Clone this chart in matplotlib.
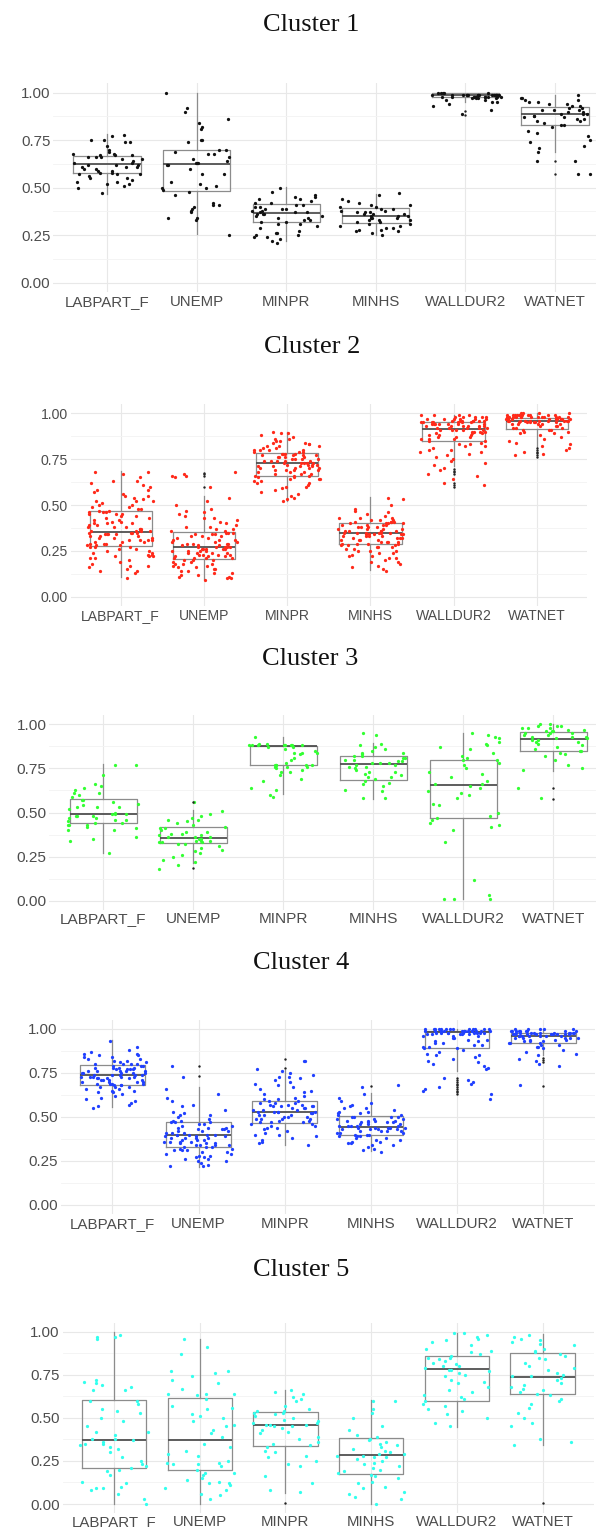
import numpy as np
import matplotlib
matplotlib.use("Agg")
import matplotlib.pyplot as plt

variables = ["LABPART_F", "UNEMP", "MINPR", "MINHS", "WALLDUR2", "WATNET"]
titles = ["Cluster 1", "Cluster 2", "Cluster 3", "Cluster 4", "Cluster 5"]
colors = ["#111111", "#ff2a1a", "#33ff33", "#2040ff", "#33ffee"]

# ---------------- Cluster 1 ----------------
cl1_LABPART_F = [0.78, 0.77, 0.75, 0.75, 0.74, 0.74, 0.72, 0.70, 0.69, 0.68, 0.68, 0.67, 0.67, 0.67, 0.66, 0.66,
                 0.66, 0.65, 0.65, 0.64, 0.63, 0.63, 0.62, 0.62, 0.62, 0.61, 0.61, 0.61, 0.60, 0.60, 0.59, 0.59,
                 0.58, 0.58, 0.57, 0.57, 0.57, 0.56, 0.55, 0.55, 0.54, 0.53, 0.53, 0.52, 0.52, 0.51, 0.50, 0.47]
cl1_UNEMP = [1.00, 0.92, 0.90, 0.86, 0.84, 0.82, 0.81, 0.75, 0.75, 0.74, 0.70, 0.70, 0.69, 0.68, 0.68, 0.66,
             0.65, 0.64, 0.63, 0.63, 0.63, 0.62, 0.62, 0.60, 0.57, 0.57, 0.53, 0.52, 0.51, 0.50, 0.50, 0.49,
             0.48, 0.46, 0.42, 0.41, 0.41, 0.40, 0.39, 0.38, 0.37, 0.34, 0.34, 0.33, 0.25]
cl1_MINPR = [0.50, 0.48, 0.46, 0.45, 0.45, 0.44, 0.44, 0.43, 0.42, 0.42, 0.41, 0.41, 0.40, 0.40, 0.39, 0.39,
             0.39, 0.38, 0.38, 0.37, 0.37, 0.37, 0.36, 0.36, 0.36, 0.35, 0.35, 0.34, 0.34, 0.33, 0.33, 0.32,
             0.32, 0.31, 0.31, 0.30, 0.29, 0.27, 0.26, 0.26, 0.25, 0.25, 0.24, 0.24, 0.23, 0.22, 0.21]
cl1_MINHS = [0.47, 0.46, 0.44, 0.43, 0.42, 0.41, 0.41, 0.40, 0.40, 0.39, 0.39, 0.38, 0.38, 0.37, 0.37, 0.37,
             0.36, 0.36, 0.36, 0.35, 0.35, 0.35, 0.34, 0.34, 0.34, 0.33, 0.33, 0.33, 0.32, 0.32, 0.31, 0.31,
             0.30, 0.30, 0.29, 0.29, 0.28, 0.28, 0.27, 0.27, 0.26, 0.25]
cl1_WALLDUR2 = [1.00, 1.00, 1.00, 1.00, 1.00, 0.99, 0.99, 0.99, 0.99, 0.99, 0.99, 0.99, 0.99, 0.99, 0.99, 0.99,
                0.99, 0.99, 0.99, 0.99, 0.98, 0.98, 0.98, 0.98, 0.98, 0.98, 0.98, 0.98, 0.98, 0.98, 0.97, 0.97,
                0.97, 0.97, 0.96, 0.96, 0.95, 0.95, 0.94, 0.93, 0.91, 0.89]
cl1_WATNET = [0.99, 0.97, 0.97, 0.96, 0.96, 0.95, 0.95, 0.94, 0.94, 0.93, 0.93, 0.92, 0.92, 0.91, 0.91, 0.91,
              0.90, 0.90, 0.89, 0.89, 0.89, 0.88, 0.88, 0.87, 0.87, 0.86, 0.86, 0.85, 0.85, 0.84, 0.83, 0.83,
              0.82, 0.80, 0.79, 0.77, 0.75, 0.74, 0.72, 0.71, 0.69, 0.64, 0.64, 0.57, 0.57]
cl1_q1 = [0.576, 0.481, 0.318, 0.314, 0.979, 0.828]
cl1_med = [0.623, 0.626, 0.368, 0.353, 0.990, 0.888]
cl1_q3 = [0.668, 0.700, 0.414, 0.395, 0.997, 0.926]
cl1_lo = [0.467, 0.255, 0.220, 0.251, 0.950, 0.690]
cl1_hi = [0.781, 1.000, 0.505, 0.467, 1.000, 0.990]
cl1_out = [[], [], [], [], [0.905, 0.885], [0.642, 0.572]]

# ---------------- Cluster 2 ----------------
cl2_LABPART_F = [0.68, 0.68, 0.67, 0.65, 0.63, 0.63, 0.62, 0.61, 0.60, 0.58, 0.58, 0.57, 0.56, 0.55, 0.55, 0.54,
                 0.53, 0.52, 0.52, 0.51, 0.50, 0.50, 0.49, 0.49, 0.48, 0.48, 0.47, 0.47, 0.46, 0.46, 0.46, 0.45,
                 0.45, 0.44, 0.44, 0.43, 0.43, 0.42, 0.42, 0.41, 0.41, 0.40, 0.40, 0.40, 0.39, 0.39, 0.38, 0.38,
                 0.38, 0.37, 0.37, 0.37, 0.36, 0.36, 0.36, 0.35, 0.35, 0.35, 0.35, 0.34, 0.34, 0.34, 0.33, 0.33,
                 0.33, 0.32, 0.32, 0.32, 0.31, 0.31, 0.31, 0.30, 0.30, 0.30, 0.29, 0.29, 0.29, 0.28, 0.28, 0.28,
                 0.27, 0.27, 0.26, 0.26, 0.25, 0.25, 0.24, 0.24, 0.23, 0.23, 0.22, 0.22, 0.22, 0.21, 0.21, 0.20,
                 0.19, 0.18, 0.17, 0.17, 0.16, 0.15, 0.14, 0.14, 0.13, 0.10, 0.34, 0.31, 0.45, 0.27, 0.36, 0.52]
cl2_UNEMP = [0.68, 0.67, 0.66, 0.66, 0.65, 0.60, 0.54, 0.52, 0.50, 0.48, 0.47, 0.46, 0.45, 0.44, 0.43, 0.43,
             0.42, 0.41, 0.40, 0.39, 0.38, 0.38, 0.37, 0.37, 0.36, 0.36, 0.35, 0.35, 0.35, 0.34, 0.34, 0.33,
             0.33, 0.33, 0.32, 0.32, 0.31, 0.31, 0.30, 0.30, 0.30, 0.29, 0.29, 0.29, 0.28, 0.28, 0.28, 0.27,
             0.27, 0.27, 0.27, 0.26, 0.26, 0.26, 0.26, 0.25, 0.25, 0.25, 0.24, 0.24, 0.24, 0.23, 0.23, 0.23,
             0.22, 0.22, 0.22, 0.21, 0.21, 0.21, 0.20, 0.20, 0.20, 0.19, 0.19, 0.18, 0.18, 0.17, 0.17, 0.16,
             0.16, 0.15, 0.15, 0.14, 0.13, 0.13, 0.12, 0.12, 0.11, 0.11, 0.10, 0.10, 0.09, 0.27, 0.24, 0.31,
             0.21, 0.26, 0.18, 0.29, 0.34, 0.25, 0.23, 0.14]
cl2_MINPR = [0.90, 0.89, 0.89, 0.88, 0.87, 0.86, 0.86, 0.85, 0.85, 0.84, 0.84, 0.83, 0.83, 0.82, 0.82, 0.81,
             0.81, 0.80, 0.80, 0.80, 0.79, 0.79, 0.79, 0.78, 0.78, 0.78, 0.77, 0.77, 0.77, 0.76, 0.76, 0.76,
             0.76, 0.75, 0.75, 0.75, 0.74, 0.74, 0.74, 0.74, 0.73, 0.73, 0.73, 0.73, 0.72, 0.72, 0.72, 0.72,
             0.71, 0.71, 0.71, 0.70, 0.70, 0.70, 0.69, 0.69, 0.69, 0.68, 0.68, 0.68, 0.67, 0.67, 0.66, 0.66,
             0.66, 0.65, 0.65, 0.64, 0.64, 0.63, 0.63, 0.62, 0.62, 0.61, 0.60, 0.60, 0.59, 0.58, 0.57, 0.56,
             0.55, 0.54, 0.53, 0.52, 0.75, 0.71, 0.78, 0.69, 0.73, 0.82, 0.64, 0.77, 0.70, 0.74, 0.67, 0.80]
cl2_MINHS = [0.54, 0.53, 0.50, 0.48, 0.47, 0.46, 0.45, 0.44, 0.43, 0.43, 0.42, 0.42, 0.41, 0.41, 0.41, 0.40,
             0.40, 0.40, 0.39, 0.39, 0.39, 0.38, 0.38, 0.38, 0.37, 0.37, 0.37, 0.36, 0.36, 0.36, 0.36, 0.35,
             0.35, 0.35, 0.35, 0.34, 0.34, 0.34, 0.34, 0.33, 0.33, 0.33, 0.32, 0.32, 0.32, 0.31, 0.31, 0.31,
             0.30, 0.30, 0.30, 0.29, 0.29, 0.29, 0.28, 0.28, 0.27, 0.27, 0.26, 0.26, 0.25, 0.25, 0.24, 0.24,
             0.23, 0.22, 0.22, 0.21, 0.20, 0.19, 0.18, 0.17, 0.16, 0.15, 0.14, 0.40, 0.37, 0.33, 0.30, 0.42,
             0.35, 0.28, 0.39, 0.32, 0.36, 0.41, 0.34, 0.29, 0.38, 0.31, 0.27, 0.43, 0.21, 0.19, 0.25, 0.35]
cl2_WALLDUR2 = [0.99, 0.99, 0.99, 0.98, 0.98, 0.98, 0.98, 0.97, 0.97, 0.97, 0.97, 0.97, 0.96, 0.96, 0.96, 0.96,
                0.96, 0.95, 0.95, 0.95, 0.95, 0.95, 0.95, 0.94, 0.94, 0.94, 0.94, 0.94, 0.93, 0.93, 0.93, 0.93,
                0.93, 0.92, 0.92, 0.92, 0.92, 0.91, 0.91, 0.91, 0.91, 0.90, 0.90, 0.90, 0.90, 0.89, 0.89, 0.89,
                0.88, 0.88, 0.88, 0.87, 0.87, 0.87, 0.86, 0.86, 0.86, 0.85, 0.85, 0.84, 0.83, 0.83, 0.82, 0.82,
                0.81, 0.80, 0.80, 0.79, 0.79, 0.78, 0.77, 0.76, 0.75, 0.74, 0.73, 0.72, 0.70, 0.69, 0.67, 0.66,
                0.64, 0.62, 0.61, 0.98, 0.96, 0.94, 0.92, 0.97, 0.95, 0.93, 0.99, 0.91, 0.96, 0.94]
cl2_WATNET = [1.00, 1.00, 1.00, 0.99, 0.99, 0.99, 0.99, 0.99, 0.99, 0.99, 0.99, 0.98, 0.98, 0.98, 0.98, 0.98,
              0.98, 0.98, 0.98, 0.98, 0.97, 0.97, 0.97, 0.97, 0.97, 0.97, 0.97, 0.97, 0.96, 0.96, 0.96, 0.96,
              0.96, 0.96, 0.96, 0.96, 0.95, 0.95, 0.95, 0.95, 0.95, 0.94, 0.94, 0.94, 0.94, 0.93, 0.93, 0.93,
              0.92, 0.92, 0.92, 0.91, 0.91, 0.91, 0.90, 0.90, 0.89, 0.89, 0.88, 0.87, 0.86, 0.85, 0.84, 0.83,
              0.82, 0.81, 0.80, 0.79, 0.78, 0.77, 0.99, 0.98, 0.97, 0.96, 0.98, 0.99, 0.97, 0.95, 0.98, 0.96,
              1.00, 0.97, 0.99, 0.94, 0.98]
cl2_q1 = [0.276, 0.205, 0.656, 0.287, 0.851, 0.913]
cl2_med = [0.351, 0.271, 0.729, 0.345, 0.913, 0.960]
cl2_q3 = [0.467, 0.353, 0.785, 0.404, 0.951, 0.976]
cl2_lo = [0.109, 0.098, 0.524, 0.145, 0.713, 0.818]
cl2_hi = [0.685, 0.547, 0.896, 0.545, 0.991, 1.000]
cl2_out = [[], [0.596, 0.660, 0.667, 0.676], [], [],
           [0.695, 0.687, 0.678, 0.667, 0.618, 0.609, 0.600],
           [0.809, 0.800, 0.791, 0.782, 0.773, 0.764]]

# ---------------- Cluster 3 ----------------
cl3_LABPART_F = [0.77, 0.77, 0.71, 0.66, 0.65, 0.64, 0.63, 0.61, 0.61, 0.60, 0.59, 0.57, 0.57, 0.56, 0.55, 0.54,
                 0.53, 0.53, 0.53, 0.52, 0.50, 0.49, 0.49, 0.49, 0.48, 0.48, 0.48, 0.47, 0.47, 0.46, 0.46, 0.45,
                 0.44, 0.44, 0.43, 0.43, 0.43, 0.42, 0.41, 0.40, 0.40, 0.36, 0.35, 0.34, 0.27]
cl3_UNEMP = [0.56, 0.51, 0.49, 0.48, 0.47, 0.46, 0.46, 0.45, 0.44, 0.43, 0.42, 0.41, 0.41, 0.40, 0.39, 0.39,
             0.38, 0.38, 0.37, 0.37, 0.36, 0.36, 0.36, 0.35, 0.35, 0.34, 0.34, 0.34, 0.33, 0.33, 0.33, 0.32,
             0.32, 0.31, 0.30, 0.29, 0.28, 0.27, 0.26, 0.25, 0.23, 0.22, 0.20, 0.18]
cl3_MINPR = [0.93, 0.89, 0.89, 0.88, 0.88, 0.88, 0.88, 0.88, 0.88, 0.88, 0.88, 0.87, 0.87, 0.86, 0.85, 0.84,
             0.84, 0.84, 0.83, 0.81, 0.80, 0.78, 0.77, 0.77, 0.77, 0.77, 0.77, 0.76, 0.76, 0.76, 0.75, 0.74,
             0.73, 0.73, 0.71, 0.69, 0.68, 0.64, 0.63, 0.60, 0.59]
cl3_MINHS = [0.95, 0.94, 0.89, 0.88, 0.87, 0.86, 0.85, 0.84, 0.84, 0.83, 0.82, 0.82, 0.81, 0.81, 0.80, 0.80,
             0.79, 0.79, 0.78, 0.78, 0.78, 0.77, 0.77, 0.76, 0.76, 0.75, 0.74, 0.73, 0.73, 0.72, 0.71, 0.70,
             0.70, 0.69, 0.68, 0.67, 0.66, 0.65, 0.63, 0.62, 0.58, 0.58]
cl3_WALLDUR2 = [0.95, 0.94, 0.93, 0.92, 0.90, 0.89, 0.88, 0.87, 0.86, 0.84, 0.82, 0.81, 0.80, 0.80, 0.78, 0.77,
                0.75, 0.73, 0.72, 0.70, 0.68, 0.66, 0.66, 0.65, 0.64, 0.62, 0.61, 0.60, 0.58, 0.55, 0.54, 0.50,
                0.48, 0.47, 0.46, 0.44, 0.43, 0.42, 0.40, 0.33, 0.12, 0.03, 0.01, 0.01, 0.01]
cl3_WATNET = [1.00, 1.00, 0.99, 0.99, 0.99, 0.98, 0.98, 0.98, 0.97, 0.97, 0.96, 0.96, 0.96, 0.95, 0.95, 0.95,
              0.94, 0.94, 0.93, 0.93, 0.93, 0.92, 0.92, 0.91, 0.91, 0.90, 0.90, 0.89, 0.88, 0.87, 0.86, 0.85,
              0.85, 0.84, 0.83, 0.82, 0.80, 0.77, 0.75, 0.74, 0.64, 0.58]
cl3_q1 = [0.439, 0.325, 0.767, 0.682, 0.467, 0.851]
cl3_med = [0.490, 0.355, 0.875, 0.777, 0.658, 0.919]
cl3_q3 = [0.575, 0.416, 0.875, 0.819, 0.800, 0.958]
cl3_lo = [0.268, 0.212, 0.605, 0.578, 0.008, 0.735]
cl3_hi = [0.775, 0.514, 0.928, 0.892, 0.949, 1.000]
cl3_out = [[], [0.560, 0.183], [], [], [], [0.637, 0.577]]

# ---------------- Cluster 4 ----------------
cl4_LABPART_F = [0.93, 0.90, 0.88, 0.87, 0.86, 0.86, 0.85, 0.85, 0.84, 0.84, 0.83, 0.83, 0.82, 0.82, 0.81, 0.81,
                 0.80, 0.80, 0.80, 0.79, 0.79, 0.79, 0.78, 0.78, 0.78, 0.77, 0.77, 0.77, 0.77, 0.76, 0.76, 0.76,
                 0.76, 0.75, 0.75, 0.75, 0.75, 0.74, 0.74, 0.74, 0.74, 0.73, 0.73, 0.73, 0.73, 0.72, 0.72, 0.72,
                 0.72, 0.71, 0.71, 0.71, 0.70, 0.70, 0.70, 0.70, 0.69, 0.69, 0.69, 0.68, 0.68, 0.68, 0.67, 0.67,
                 0.66, 0.66, 0.65, 0.65, 0.64, 0.64, 0.63, 0.62, 0.61, 0.60, 0.59, 0.58, 0.57, 0.56, 0.55, 0.74,
                 0.78, 0.71, 0.76, 0.69, 0.73, 0.80, 0.67, 0.75]
cl4_UNEMP = [0.79, 0.73, 0.66, 0.63, 0.61, 0.59, 0.57, 0.56, 0.54, 0.53, 0.52, 0.51, 0.51, 0.50, 0.49, 0.48,
             0.48, 0.47, 0.47, 0.46, 0.46, 0.45, 0.45, 0.44, 0.44, 0.43, 0.43, 0.43, 0.42, 0.42, 0.42, 0.41,
             0.41, 0.41, 0.40, 0.40, 0.40, 0.40, 0.39, 0.39, 0.39, 0.38, 0.38, 0.38, 0.37, 0.37, 0.37, 0.36,
             0.36, 0.36, 0.35, 0.35, 0.35, 0.34, 0.34, 0.34, 0.33, 0.33, 0.33, 0.32, 0.32, 0.31, 0.31, 0.30,
             0.30, 0.29, 0.29, 0.28, 0.28, 0.27, 0.27, 0.26, 0.26, 0.25, 0.25, 0.24, 0.23, 0.22, 0.22, 0.40,
             0.36, 0.44, 0.31, 0.38, 0.47, 0.34]
cl4_MINPR = [0.82, 0.82, 0.77, 0.76, 0.75, 0.74, 0.73, 0.73, 0.72, 0.71, 0.70, 0.69, 0.68, 0.67, 0.66, 0.65,
             0.64, 0.63, 0.62, 0.61, 0.60, 0.60, 0.59, 0.59, 0.58, 0.58, 0.57, 0.57, 0.57, 0.56, 0.56, 0.56,
             0.55, 0.55, 0.55, 0.54, 0.54, 0.54, 0.53, 0.53, 0.53, 0.53, 0.52, 0.52, 0.52, 0.51, 0.51, 0.51,
             0.50, 0.50, 0.50, 0.49, 0.49, 0.49, 0.48, 0.48, 0.47, 0.47, 0.47, 0.46, 0.46, 0.45, 0.45, 0.44,
             0.44, 0.43, 0.42, 0.41, 0.40, 0.40, 0.39, 0.38, 0.37, 0.36, 0.35, 0.34, 0.53, 0.56, 0.49, 0.58]
cl4_MINHS = [0.68, 0.67, 0.63, 0.61, 0.59, 0.58, 0.57, 0.56, 0.55, 0.55, 0.54, 0.53, 0.53, 0.52, 0.52, 0.51,
             0.51, 0.50, 0.50, 0.50, 0.49, 0.49, 0.49, 0.48, 0.48, 0.48, 0.47, 0.47, 0.47, 0.46, 0.46, 0.46,
             0.45, 0.45, 0.45, 0.45, 0.44, 0.44, 0.44, 0.44, 0.43, 0.43, 0.43, 0.42, 0.42, 0.42, 0.41, 0.41,
             0.41, 0.40, 0.40, 0.40, 0.39, 0.39, 0.38, 0.38, 0.37, 0.37, 0.36, 0.36, 0.35, 0.35, 0.34, 0.34,
             0.33, 0.32, 0.31, 0.30, 0.44, 0.47, 0.42, 0.50, 0.39, 0.45, 0.48, 0.43]
cl4_WALLDUR2 = [1.00, 1.00, 1.00, 1.00, 1.00, 1.00, 1.00, 1.00, 1.00, 1.00, 0.99, 0.99, 0.99, 0.99, 0.99, 0.99,
                0.99, 0.99, 0.99, 0.99, 0.99, 0.99, 0.98, 0.98, 0.98, 0.98, 0.98, 0.98, 0.98, 0.98, 0.97, 0.97,
                0.97, 0.97, 0.96, 0.96, 0.96, 0.95, 0.95, 0.94, 0.94, 0.93, 0.93, 0.92, 0.92, 0.91, 0.91, 0.90,
                0.90, 0.89, 0.89, 0.88, 0.87, 0.86, 0.85, 0.85, 0.84, 0.83, 0.82, 0.81, 0.80, 0.79, 0.78, 0.77,
                0.72, 0.71, 0.70, 0.69, 0.67, 0.66, 0.65, 0.63, 0.60, 1.00, 0.99, 1.00, 0.98, 0.99, 1.00, 0.97]
cl4_WATNET = [1.00, 1.00, 1.00, 1.00, 0.99, 0.99, 0.99, 0.99, 0.99, 0.99, 0.99, 0.98, 0.98, 0.98, 0.98, 0.98,
              0.98, 0.98, 0.98, 0.97, 0.97, 0.97, 0.97, 0.97, 0.97, 0.97, 0.96, 0.96, 0.96, 0.96, 0.96, 0.96,
              0.95, 0.95, 0.95, 0.95, 0.94, 0.94, 0.94, 0.93, 0.93, 0.93, 0.92, 0.92, 0.92, 0.91, 0.91, 0.90,
              0.90, 0.89, 0.88, 0.87, 0.86, 0.85, 0.83, 0.82, 0.80, 0.79, 0.68, 0.99, 0.98, 0.97, 1.00, 0.96,
              0.98, 0.99, 0.95, 0.97]
cl4_q1 = [0.684, 0.330, 0.464, 0.400, 0.890, 0.922]
cl4_med = [0.737, 0.398, 0.530, 0.443, 0.981, 0.962]
cl4_q3 = [0.794, 0.473, 0.589, 0.506, 0.990, 0.979]
cl4_lo = [0.559, 0.218, 0.341, 0.307, 0.763, 0.852]
cl4_hi = [0.940, 0.669, 0.767, 0.634, 1.000, 1.000]
cl4_out = [[], [0.790, 0.735], [0.828, 0.780], [0.676],
           [0.720, 0.710, 0.700, 0.690, 0.680, 0.670, 0.660, 0.650, 0.640, 0.630],
           [0.833, 0.824, 0.814, 0.676]]

# ---------------- Cluster 5 ----------------
cl5_LABPART_F = [0.98, 0.97, 0.97, 0.96, 0.72, 0.71, 0.70, 0.69, 0.68, 0.66, 0.66, 0.60, 0.60, 0.58, 0.55, 0.54,
                 0.53, 0.50, 0.48, 0.45, 0.42, 0.42, 0.40, 0.38, 0.38, 0.37, 0.36, 0.35, 0.35, 0.34, 0.33, 0.32,
                 0.30, 0.27, 0.25, 0.23, 0.22, 0.21, 0.20, 0.19, 0.17, 0.13, 0.12, 0.10, 0.09, 0.09, 0.08, 0.06,
                 0.03, 0.00]
cl5_UNEMP = [0.96, 0.91, 0.87, 0.77, 0.77, 0.76, 0.74, 0.72, 0.70, 0.67, 0.64, 0.64, 0.64, 0.63, 0.61, 0.57,
             0.56, 0.55, 0.52, 0.51, 0.50, 0.48, 0.46, 0.45, 0.43, 0.41, 0.39, 0.35, 0.33, 0.31, 0.29, 0.28,
             0.25, 0.24, 0.24, 0.23, 0.23, 0.22, 0.20, 0.18, 0.18, 0.17, 0.15, 0.14, 0.13, 0.12, 0.12, 0.11,
             0.09, 0.08, 0.06, 0.05, 0.03]
cl5_MINPR = [0.66, 0.65, 0.64, 0.62, 0.61, 0.60, 0.57, 0.55, 0.54, 0.54, 0.53, 0.53, 0.52, 0.51, 0.50, 0.49,
             0.48, 0.47, 0.47, 0.46, 0.46, 0.46, 0.45, 0.45, 0.44, 0.43, 0.42, 0.41, 0.39, 0.38, 0.36, 0.35,
             0.34, 0.33, 0.31, 0.30, 0.28, 0.27, 0.25, 0.23, 0.22, 0.16, 0.12, 0.08, 0.07]
cl5_MINHS = [0.60, 0.60, 0.55, 0.53, 0.50, 0.45, 0.43, 0.40, 0.39, 0.38, 0.37, 0.36, 0.35, 0.34, 0.33, 0.32,
             0.31, 0.30, 0.29, 0.29, 0.28, 0.28, 0.27, 0.27, 0.26, 0.25, 0.24, 0.23, 0.22, 0.21, 0.20, 0.19,
             0.18, 0.17, 0.16, 0.15, 0.13, 0.12, 0.10, 0.09, 0.07, 0.06, 0.04, 0.03, 0.00]
cl5_WALLDUR2 = [0.99, 0.99, 0.98, 0.97, 0.96, 0.95, 0.94, 0.92, 0.90, 0.89, 0.88, 0.87, 0.86, 0.85, 0.85, 0.84,
                0.83, 0.82, 0.81, 0.80, 0.80, 0.79, 0.78, 0.78, 0.77, 0.76, 0.75, 0.74, 0.72, 0.71, 0.70, 0.68,
                0.66, 0.65, 0.63, 0.62, 0.61, 0.60, 0.58, 0.57, 0.55, 0.54, 0.52, 0.50, 0.47, 0.45]
cl5_WATNET = [0.98, 0.97, 0.96, 0.95, 0.94, 0.93, 0.92, 0.90, 0.89, 0.88, 0.87, 0.86, 0.85, 0.84, 0.82, 0.80,
              0.79, 0.78, 0.76, 0.75, 0.74, 0.74, 0.73, 0.72, 0.70, 0.69, 0.68, 0.67, 0.66, 0.65, 0.64, 0.63,
              0.61, 0.60, 0.58, 0.56, 0.53, 0.50, 0.47, 0.45, 0.38, 0.36, 0.34]
cl5_q1 = [0.207, 0.197, 0.337, 0.174, 0.600, 0.636]
cl5_med = [0.373, 0.373, 0.456, 0.282, 0.781, 0.735]
cl5_q3 = [0.602, 0.617, 0.532, 0.385, 0.857, 0.878]
cl5_lo = [0.000, 0.000, 0.066, 0.000, 0.449, 0.342]
cl5_hi = [1.000, 0.957, 0.661, 0.603, 0.994, 0.986]
cl5_out = [[], [], [0.004], [], [], [0.004]]

points = [
    [cl1_LABPART_F, cl1_UNEMP, cl1_MINPR, cl1_MINHS, cl1_WALLDUR2, cl1_WATNET],
    [cl2_LABPART_F, cl2_UNEMP, cl2_MINPR, cl2_MINHS, cl2_WALLDUR2, cl2_WATNET],
    [cl3_LABPART_F, cl3_UNEMP, cl3_MINPR, cl3_MINHS, cl3_WALLDUR2, cl3_WATNET],
    [cl4_LABPART_F, cl4_UNEMP, cl4_MINPR, cl4_MINHS, cl4_WALLDUR2, cl4_WATNET],
    [cl5_LABPART_F, cl5_UNEMP, cl5_MINPR, cl5_MINHS, cl5_WALLDUR2, cl5_WATNET],
]
boxes = [
    (cl1_q1, cl1_med, cl1_q3, cl1_lo, cl1_hi, cl1_out),
    (cl2_q1, cl2_med, cl2_q3, cl2_lo, cl2_hi, cl2_out),
    (cl3_q1, cl3_med, cl3_q3, cl3_lo, cl3_hi, cl3_out),
    (cl4_q1, cl4_med, cl4_q3, cl4_lo, cl4_hi, cl4_out),
    (cl5_q1, cl5_med, cl5_q3, cl5_lo, cl5_hi, cl5_out),
]

# layout in pixels: first category centre, category spacing, y of 1.00, y of 0.00, title x/y, font size
W, H = 596, 1529
layout = [
    (107.0, 89.6, 92.7, 282.7, 311, 25, 10.8),
    (120.7, 83.2, 413.3, 596.7, 312, 347, 10.1),
    (103.3, 90.0, 724.3, 900.7, 310, 659, 11.1),
    (112.3, 86.2, 1029.0, 1205.0, 301, 963, 10.9),
    (114.0, 85.7, 1331.7, 1504.0, 301, 1270, 10.8),
]

fig = plt.figure(figsize=(W / 100, H / 100), dpi=100)


def spread(n, seed):
    # deterministic horizontal scatter in [-0.4, 0.4] (jitter width, not data)
    h = np.sin((np.arange(n) + 1) * 12.9898 + seed * 78.233) * 43758.5453
    return (h % 1.0 - 0.5) * 0.8


for k in range(5):
    c1, sp, y1, y0, tx, ty, fs = layout[k]
    unit = y0 - y1
    left = c1 - 0.6 * sp
    right = min(W, c1 + 5.6 * sp)
    top = y1 - 0.05 * unit
    bottom = y0 + 0.05 * unit
    ax = fig.add_axes([left / W, 1 - bottom / H, (right - left) / W, (bottom - top) / H])
    xmax = 0.4 + (right - left) / sp

    q1, med, q3, lo, hi, out = boxes[k]
    stats = []
    for i in range(6):
        stats.append(dict(q1=q1[i], med=med[i], q3=q3[i], whislo=lo[i], whishi=hi[i], fliers=[]))
    ax.bxp(stats, positions=range(1, 7), widths=0.75, showfliers=False, showcaps=False,
           boxprops=dict(color="#8c8c8c", lw=0.9),
           whiskerprops=dict(color="#8c8c8c", lw=0.9),
           medianprops=dict(color="#505050", lw=1.3),
           manage_ticks=False)

    for i in range(6):
        ys = np.array(points[k][i])
        jit = spread(len(ys), 6 * k + i + 1)
        ax.scatter(i + 1 + jit, ys, s=5.5, color=colors[k], lw=0, zorder=3)
        if out[i]:
            ax.scatter(np.full(len(out[i]), i + 1), out[i], s=3, color="#222222", lw=0, zorder=4)

    ax.set_xlim(0.4, xmax)
    ax.set_ylim(-0.05, 1.05)
    ax.set_xticks(range(1, 7))
    ax.set_xticklabels(variables)
    ax.set_yticks([0, 0.25, 0.5, 0.75, 1.0])
    ax.set_yticklabels(["0.00", "0.25", "0.50", "0.75", "1.00"])
    ax.set_yticks([0.125, 0.375, 0.625, 0.875], minor=True)
    ax.grid(True, which="major", color="#e8e8e8", lw=0.8)
    ax.grid(True, which="minor", axis="y", color="#f3f3f3", lw=0.6)
    ax.set_axisbelow(True)
    for s in ax.spines.values():
        s.set_visible(False)
    ax.tick_params(which="both", length=0, pad=2, labelsize=fs, labelcolor="#4d4d4d")
    for lab in ax.get_xticklabels() + ax.get_yticklabels():
        lab.set_fontfamily("Liberation Sans")

    fig.text(tx / W, 1 - ty / H, titles[k], family="Liberation Serif", fontsize=19,
             ha="center", va="center", color="#111111")

fig.savefig("out.png", dpi=100)
